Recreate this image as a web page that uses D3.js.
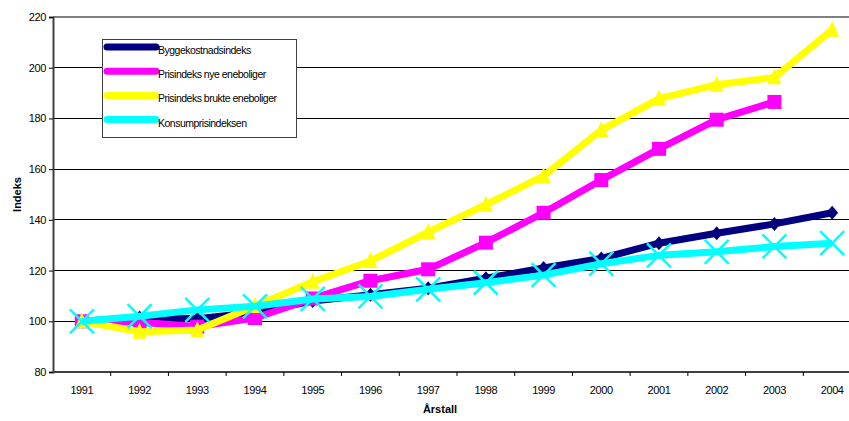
<!DOCTYPE html>
<html>
<head>
<meta charset="utf-8">
<script src="https://cdn.jsdelivr.net/npm/d3@7"></script>
<style>
  html, body { margin: 0; padding: 0; background: #fff; }
  svg { display: block; }
  text { font-family: "Liberation Sans", Arial, sans-serif; fill: #000; }
</style>
</head>
<body>
<svg id="chart" width="849" height="421"></svg>
<script>
// Years on the category axis
const years = ["1991","1992","1993","1994","1995","1996","1997","1998","1999","2000","2001","2002","2003","2004"];

// Index series (1991 = 100)
const byggekostnadsindeks = [100, 101.5, 101, 103.5, 108, 110.5, 113, 117, 121, 124.8, 130.8, 134.7, 138.4, 142.8];
const nyeEneboliger      = [100, 99.6, 97.9, 101.3, 109, 116, 120.5, 131, 142.8, 155.7, 168, 179.5, 186.5, null];
const brukteEneboliger   = [100, 95.9, 96.6, 106, 115.6, 123.8, 135.2, 146, 157.3, 175.4, 187.8, 193.3, 196.2, 215];
const konsumprisindeksen = [100, 102, 104.5, 105.9, 108.8, 109.8, 112.6, 115.2, 118.2, 122.7, 126, 127.4, 129.5, 130.8];

const yTicks = [80, 100, 120, 140, 160, 180, 200, 220];

const seriesNames = ["Byggekostnadsindeks", "Prisindeks nye eneboliger", "Prisindeks brukte eneboliger", "Konsumprisindeksen"];
const seriesColors = ["#000080", "#ff00ff", "#ffff00", "#00ffff"];
const seriesMarkers = ["diamond", "square", "triangle", "cross"];
const seriesValues = [byggekostnadsindeks, nyeEneboliger, brukteEneboliger, konsumprisindeksen];

const svg = d3.select("#chart");
const plot = { left: 53, right: 861, top: 17, bottom: 372 };

const x = d3.scaleBand().domain(years).range([plot.left, plot.right]).paddingInner(0).paddingOuter(0);
const cx = d => x(d) + x.bandwidth() / 2;
const y = d3.scaleLinear().domain([80, 220]).range([plot.bottom, plot.top]);

// Horizontal gridlines
svg.append("g")
  .selectAll("line")
  .data(yTicks.filter(t => t > 80 && t < 220))
  .join("line")
  .attr("x1", plot.left).attr("x2", plot.right)
  .attr("y1", d => y(d)).attr("y2", d => y(d))
  .attr("stroke", "#000").attr("stroke-width", 1)
  .attr("shape-rendering", "crispEdges");

// Top border of the plot area
svg.append("line")
  .attr("x1", plot.left).attr("x2", plot.right)
  .attr("y1", y(220)).attr("y2", y(220))
  .attr("stroke", "#808080").attr("stroke-width", 2);

// Y axis
const yAxis = svg.append("g")
  .attr("transform", `translate(${plot.left},0)`)
  .call(d3.axisLeft(y).tickValues(yTicks).tickSize(4).tickPadding(3));
yAxis.select(".domain").attr("stroke", "#404040").attr("stroke-width", 2);
yAxis.selectAll(".tick line").attr("stroke", "#000");
yAxis.selectAll(".tick text")
  .style("font-family", "'Liberation Sans', Arial, sans-serif")
  .style("font-size", "11px").style("letter-spacing", "-0.4px");

// X axis: ticks sit between categories
const xAxis = svg.append("g")
  .attr("transform", `translate(0,${plot.bottom})`);
xAxis.append("line")
  .attr("x1", plot.left).attr("x2", plot.right)
  .attr("stroke", "#404040").attr("stroke-width", 2);
xAxis.selectAll("line.tk")
  .data(years)
  .join("line").attr("class", "tk")
  .attr("x1", d => x(d) + x.bandwidth()).attr("x2", d => x(d) + x.bandwidth())
  .attr("y1", 0).attr("y2", 4)
  .attr("stroke", "#000");
xAxis.selectAll("text")
  .data(years)
  .join("text")
  .attr("x", d => cx(d)).attr("y", 22)
  .attr("text-anchor", "middle")
  .style("font-size", "11px").style("letter-spacing", "-0.4px")
  .text(d => d);

// Axis titles
svg.append("text")
  .attr("transform", `translate(21,${(plot.top + plot.bottom) / 2}) rotate(-90)`)
  .attr("text-anchor", "middle")
  .style("font-size", "11px").style("font-weight", "bold")
  .text("Indeks");
svg.append("text")
  .attr("x", 440).attr("y", 413)
  .attr("text-anchor", "middle")
  .style("font-size", "11px").style("font-weight", "bold")
  .text("Årstall");

// Marker drawing
function drawMarker(g, type, color) {
  if (type === "diamond") {
    g.append("path").attr("d", "M0,-7L6,0L0,7L-6,0Z").attr("fill", color);
  } else if (type === "square") {
    g.append("rect").attr("x", -7).attr("y", -7).attr("width", 14).attr("height", 14).attr("fill", color);
  } else if (type === "triangle") {
    g.append("path").attr("d", "M0,-9L7,7L-7,7Z").attr("fill", color);
  } else if (type === "cross") {
    g.append("path").attr("d", "M-12,-12L12,12M-12,12L12,-12")
      .attr("stroke", color).attr("stroke-width", 2.5).attr("fill", "none");
  }
}

const line = d3.line()
  .defined(d => d.v != null)
  .x(d => cx(d.year))
  .y(d => y(d.v));

const seriesG = svg.append("g");
seriesValues.forEach((vals, i) => {
  const pts = years.map((yr, j) => ({ year: yr, v: vals[j] }));
  const g = seriesG.append("g");
  g.append("path")
    .datum(pts)
    .attr("d", line)
    .attr("fill", "none")
    .attr("stroke", seriesColors[i])
    .attr("stroke-width", 7)
    .attr("stroke-linejoin", "round");
  pts.filter(p => p.v != null).forEach(p => {
    const mg = g.append("g").attr("transform", `translate(${cx(p.year)},${y(p.v)})`);
    drawMarker(mg, seriesMarkers[i], seriesColors[i]);
  });
});

// Legend
const legend = svg.append("g").attr("transform", "translate(102,39)");
legend.append("rect")
  .attr("x", 0).attr("y", 0).attr("width", 194).attr("height", 98)
  .attr("fill", "#fff").attr("stroke", "#404040").attr("stroke-width", 1)
  .attr("shape-rendering", "crispEdges");
seriesNames.forEach((name, i) => {
  const ly = 8 + i * 24.2;
  legend.append("line")
    .attr("x1", 5).attr("x2", 54).attr("y1", ly).attr("y2", ly)
    .attr("stroke", seriesColors[i]).attr("stroke-width", 7)
    .attr("stroke-linecap", "round");
  legend.append("text")
    .attr("x", 56).attr("y", ly + 7)
    .style("font-size", "10.5px").style("letter-spacing", "-0.5px")
    .text(name);
});
</script>
</body>
</html>
